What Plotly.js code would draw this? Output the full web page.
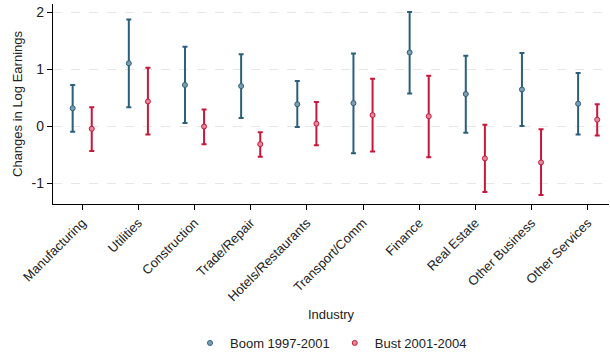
<!DOCTYPE html>
<html><head><meta charset="utf-8">
<script src="https://cdn.plot.ly/plotly-3.0.1.min.js"></script>
<style>html,body{margin:0;padding:0;background:#fff}#chart{width:610px;height:354px}</style>
</head><body><div id="chart"></div>
<script>
var industries = ["Manufacturing","Utilities","Construction","Trade/Repair","Hotels/Restaurants","Transport/Comm","Finance","Real Estate","Other Business","Other Services"];
var boomEst = [0.32, 1.11, 0.73, 0.71, 0.39, 0.41, 1.30, 0.57, 0.65, 0.40];
var boomHi  = [0.73, 1.88, 1.40, 1.27, 0.80, 1.28, 2.01, 1.24, 1.29, 0.94];
var boomLo  = [-0.09, 0.34, 0.06, 0.15, -0.01, -0.47, 0.58, -0.11, 0.01, -0.14];
var bustEst = [-0.04, 0.44, 0.00, -0.31, 0.05, 0.20, 0.18, -0.56, -0.63, 0.12];
var bustHi  = [0.34, 1.03, 0.30, -0.10, 0.43, 0.84, 0.89, 0.03, -0.05, 0.39];
var bustLo  = [-0.43, -0.14, -0.31, -0.53, -0.33, -0.44, -0.54, -1.15, -1.20, -0.16];
var yTickVals = [-1, 0, 1, 2];
var yTickText = ["-1", "0", "1", "2"];

function diff(a, b){ return a.map(function(v,i){ return v - b[i]; }); }

var blue = "#2b5f7b", red = "#c8173b";
function trace(name, est, hi, lo, col, fill){
  return {
    type: "scatter", mode: "markers", name: name,
    x: industries, y: est,
    error_y: {type: "data", symmetric: false, array: diff(hi, est), arrayminus: diff(est, lo),
              color: col, thickness: 2, width: 2.5},
    marker: {symbol: "circle", size: 5, color: fill, line: {color: col, width: 1}}
  };
}
var data = [
  trace("Boom 1997-2001", boomEst, boomHi, boomLo, blue, "#7e9fb3"),
  trace("Bust 2001-2004", bustEst, bustHi, bustLo, red, "#e3899c")
];
var layout = {
  width: 610, height: 354,
  margin: {l: 53, r: 1, t: 4, b: 150, autoexpand: false},
  paper_bgcolor: "#fff", plot_bgcolor: "#fff",
  font: {family: "Liberation Sans, Arial, sans-serif", size: 13, color: "#222"},
  scattermode: "group", scattergap: 0.32,
  showlegend: true,
  legend: {orientation: "h", x: 0.5, xanchor: "center", y: -0.695, yanchor: "middle",
           font: {size: 13}, itemwidth: 20, tracegroupgap: 0},
  xaxis: {
    type: "category", range: [-0.52, 9.38], automargin: false,
    showline: true, linecolor: "#000", linewidth: 1.2, mirror: false,
    ticks: "outside", ticklen: 5, tickcolor: "#000", tickangle: -45,
    showgrid: false, zeroline: false,
    tickfont: {size: 13},
    title: {text: "Industry", font: {size: 13}, standoff: 6}
  },
  yaxis: {
    range: [-1.36, 2.15], automargin: false,
    tickvals: yTickVals, ticktext: yTickText,
    showline: true, linecolor: "#000", linewidth: 1.2,
    ticks: "outside", ticklen: 5, tickcolor: "#000",
    showgrid: true, gridcolor: "#e6e6e6", griddash: "dash", gridwidth: 1,
    zeroline: false, tickfont: {size: 14},
    title: {text: "Changes in Log Earnings", font: {size: 13}, standoff: 6}
  },
  shapes: [{type: "line", xref: "paper", x0: 0, x1: 1, yref: "y", y0: 0, y1: 0,
            line: {color: "#777", width: 1.2, dash: "dash"}, layer: "below"}]
};
Plotly.newPlot("chart", data, layout, {displayModeBar: false, staticPlot: true});
</script></body></html>
